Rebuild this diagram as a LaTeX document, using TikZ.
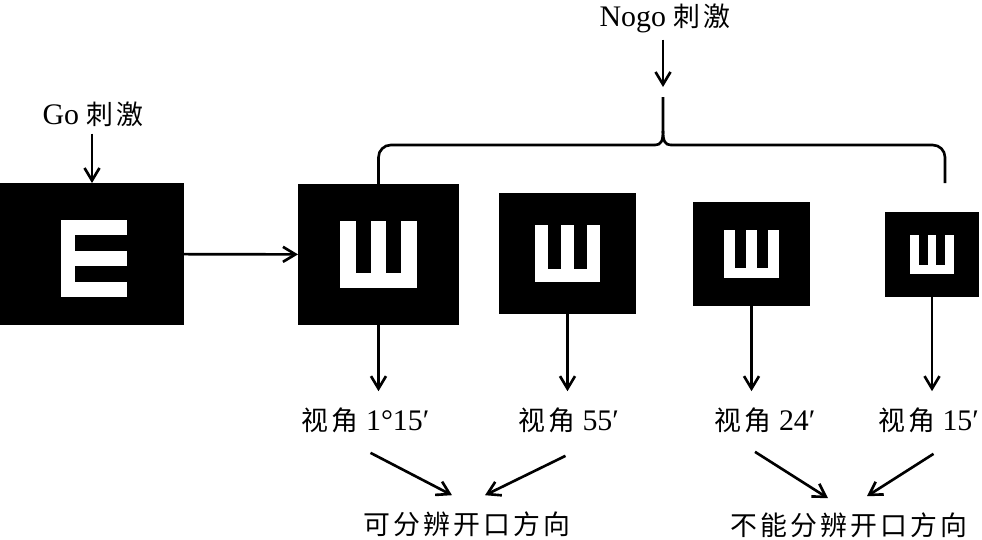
\documentclass[tikz,border=0pt]{standalone}
\usepackage{fontspec}
\setmainfont{Liberation Serif}
\newfontfamily\cjk[Scale=0.9,LetterSpace=12]{Noto Sans CJK SC}
\usepackage{tikz}
\usetikzlibrary{arrows.meta}
\tikzset{%
 >={Straight Barb[length=2.5mm,width=3mm,line width=1.5pt]}
}
\usetikzlibrary{calc}

\begin{document}
\begin{tikzpicture}[x=.02cm, y=-.02cm, line width=1.5pt,
  font=\fontsize{17pt}{20pt}\selectfont,
  card/.style={fill=black, inner sep=0, outer sep=0},
  lab/.style={inner sep=0},
  down/.style={->, shorten >=.3cm}]
 \useasboundingbox (0,0) rectangle (982,539);

 \node [card, minimum width=3.68cm, minimum height=2.84cm] (go) at (92,254) {};
 \begin{scope}[shift={(go.center)}]
  \fill [white] (-31,-34) rectangle (35,43);
  \fill [black] (-17,-18.6) rectangle (36,-3.2);
  \fill [black] (-17,12.2) rectangle (36,27.6);
 \end{scope}

 \foreach \n/\x/\y/\w/\h in {n1/378.5/254.5/161/141, n2/567.5/253.5/137/121,
                             n3/751.5/254/117/104, n4/932/254.5/94/85} {
  \node [card, minimum width=\w*.02cm, minimum height=\h*.02cm] (\n) at (\x,\y) {};
  \begin{scope}[shift={(\n.center)}]
   \pgfmathsetmacro\s{.475*\w}
   \fill [white] (-\s/2,-.435*\s) rectangle (\s/2,.435*\s);
   \fill [black] (-.3*\s,-.435*\s-1) rectangle (-.1*\s,.245*\s);
   \fill [black] (.1*\s,-.435*\s-1) rectangle (.3*\s,.245*\s);
  \end{scope}
 }

 \node (gotxt) at (93,114) {Go {\cjk 刺激}};
 \node (nogotxt) at (665,18) {Nogo {\cjk 刺激}};
 \draw [->] (go.north |- gotxt.south) -- (go.north);
 \draw [->] (go) -- (n1);

 \coordinate (tip) at (663,87);
 \coordinate (stem) at (663,97);
 \coordinate (cusp) at (663,131);
 \coordinate (brR) at (945,183);
 \draw [->] (tip |- nogotxt.south) -- (tip);
 \draw [rounded corners=7] (n1.north) |- (655,145);
 \draw (655,145) .. controls (661,145) and (663,141) .. (cusp) -- (stem);
 \draw (671,145) .. controls (665,145) and (663,141) .. (cusp);
 \draw [rounded corners=7] (671,145) -| (brR);

 \foreach \n/\l/\x/\t in {n1/l1/365.5/{\cjk 视角} 1°15′, n2/l2/568.5/{\cjk 视角} 55′,
                          n3/l3/765/{\cjk 视角} 24′, n4/l4/928.5/{\cjk 视角} 15′} {
  \node [lab] (\l) at (\x,420) {\t};
  \draw [down] (\n.south) -- (\n.south |- \l.north);
 }

 \node [lab] (r1) at (467,524) {\cjk 可分辨开口方向};
 \node [lab] (r2) at (849,525) {\cjk 不能分辨开口方向};
 \draw [->] ($(l1.south)+(5,19)$) -- ($(r1.north)+(-15,-15)$);
 \draw [->] ($(l2.south)+(-3,22)$) -- ($(r1.north)+(18,-15)$);
 \draw [->] ($(l3.south)+(-10,18)$) -- ($(r2.north)+(-21,-13)$);
 \draw [->] ($(l4.south)+(5,20)$) -- ($(r2.north)+(18,-15)$);
\end{tikzpicture}
\end{document}
